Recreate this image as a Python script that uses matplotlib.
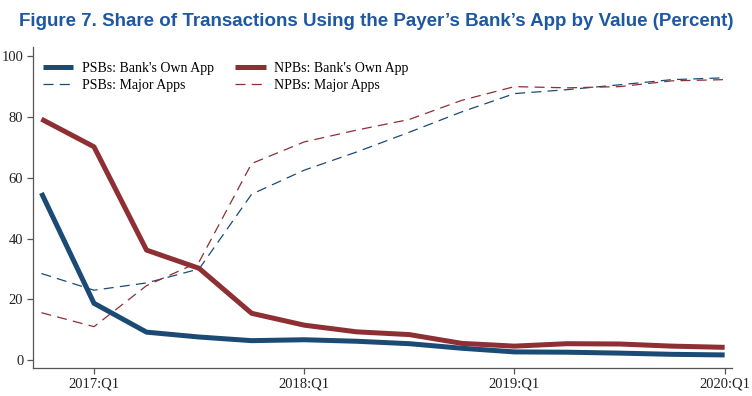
import matplotlib
matplotlib.use("Agg")
import matplotlib.pyplot as plt

quarters = ["2016:Q4", "2017:Q1", "2017:Q2", "2017:Q3", "2017:Q4", "2018:Q1", "2018:Q2",
            "2018:Q3", "2018:Q4", "2019:Q1", "2019:Q2", "2019:Q3", "2019:Q4", "2020:Q1"]
psb_own = [55.0, 18.7, 9.2, 7.6, 6.4, 6.7, 6.2, 5.4, 3.9, 2.7, 2.6, 2.3, 1.9, 1.7]
npb_own = [79.3, 70.2, 36.2, 30.2, 15.4, 11.5, 9.3, 8.4, 5.5, 4.6, 5.4, 5.3, 4.6, 4.2]
psb_major = [28.5, 23.0, 25.4, 30.0, 54.6, 62.5, 68.5, 75.0, 81.7, 87.7, 89.0, 90.6, 92.3, 92.9]
npb_major = [15.6, 11.0, 24.5, 32.3, 64.7, 71.8, 75.7, 79.2, 85.5, 90.0, 89.6, 90.0, 91.9, 92.3]
tick_labels = ["2017:Q1", "2018:Q1", "2019:Q1", "2020:Q1"]
y_ticks = [0, 20, 40, 60, 80, 100]

blue = "#1b4a74"
red = "#8e2f34"

fig = plt.figure(figsize=(7.52, 3.96), dpi=100)
ax = fig.add_axes([0.0439, 0.0707, 0.9295, 0.8103])

x = list(range(len(quarters)))
ax.plot(x, psb_own, color=blue, lw=3.6, label="PSBs: Bank's Own App", solid_capstyle="butt")
ax.plot(x, psb_major, color=blue, lw=0.9, ls=(0, (8, 5)), label="PSBs: Major Apps")
ax.plot(x, npb_own, color=red, lw=3.6, label="NPBs: Bank's Own App", solid_capstyle="butt")
ax.plot(x, npb_major, color=red, lw=0.9, ls=(0, (8, 5)), label="NPBs: Major Apps")

ax.set_xlim(-0.16, 13.14)
ax.set_ylim(-2.6, 103)
ax.set_xticks([quarters.index(t) for t in tick_labels])
ax.set_xticklabels(tick_labels)
ax.set_yticks(y_ticks)
for s in ["top", "right"]:
    ax.spines[s].set_visible(False)
for s in ["left", "bottom"]:
    ax.spines[s].set_color("#555555")
    ax.spines[s].set_linewidth(0.9)
ax.tick_params(direction="out", length=4, width=0.9, color="#555555",
               labelsize=10.5, labelcolor="#222222", pad=3)
for lab in ax.get_xticklabels() + ax.get_yticklabels():
    lab.set_fontfamily("Liberation Serif")

leg = ax.legend(loc="upper left", ncol=2, frameon=False, handlelength=2.2,
                columnspacing=1.55, handletextpad=0.6, labelspacing=0.3,
                borderaxespad=0.3,
                prop={"family": "Liberation Serif", "size": 10},
                bbox_to_anchor=(0.0, 0.985))

fig.text(0.5, 0.945, "Figure 7. Share of Transactions Using the Payer\u2019s Bank\u2019s App by Value (Percent)",
         ha="center", va="center", fontsize=13.5, fontweight="bold", color="#1f58a0",
         family="Liberation Sans")

fig.savefig("out.png", dpi=100)
